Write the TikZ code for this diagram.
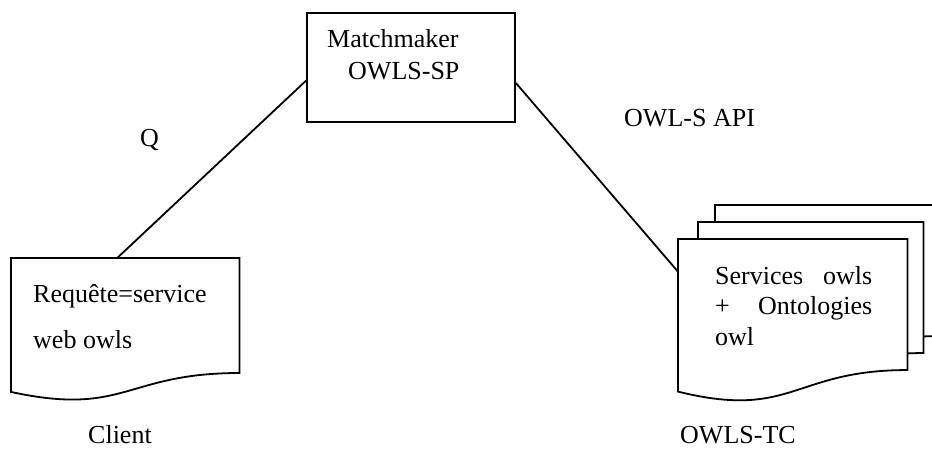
\documentclass[tikz,border=0pt]{standalone}
\usepackage{fontspec}
\setmainfont{Liberation Serif}
\usetikzlibrary{calc}
\tikzset{
  txt/.style={anchor=base west, inner sep=0pt, font=\fontsize{26}{30}\selectfont},
  box/.style={draw, line width=1.8pt, fill=white, inner sep=0pt, minimum width=208pt, minimum height=109pt},
  docarea/.style 2 args={inner sep=0pt, minimum width=#1pt, minimum height=#2pt, anchor=north west},
  docline/.style={draw, line width=1.8pt, fill=white, line join=miter},
  link/.style={draw, line width=1.8pt},
}
% document shape: flat top, wavy bottom
\newcommand{\docshape}[1]{%
  \path[docline] (#1.north west) -- (#1.north east)
    -- ($(#1.north east)!0.802!(#1.south east)$)
    .. controls ($($(#1.north west)!0.5!(#1.north east)$)!0.802!($(#1.south west)!0.5!(#1.south east)$)$)
    and ($($(#1.north west)!0.5!(#1.north east)$)!1.107!($(#1.south west)!0.5!(#1.south east)$)$)
    .. ($(#1.north west)!0.934!(#1.south west)$) -- cycle;}
\begin{document}
\begin{tikzpicture}[x=1pt, y=-1pt]
  \useasboundingbox (0,0) rectangle (932,448);
  \clip (0,0) rectangle (932,448);

  % matchmaker box
  \node[box, anchor=north west] (mm) at (306,12) {};
  \node[txt] (mmA) at (327,47) {Matchmaker};
  \node[txt] (mmB) at (348,79) {OWLS-SP};

  % client request document
  \node[docarea={228}{143}] (client) at (11,258) {};
  \docshape{client}
  \node[txt] (req1) at (33,302) {Requête=service};
  \node[txt] (req2) at (33,348) {web owls};
  \node[txt] (clientlbl) at (88,443) {Client};

  % stack of test-collection documents
  \node[docarea={225}{163}] (tc3) at (715,205) {};
  \docshape{tc3}
  \node[docarea={225}{163}] (tc2) at (698,222) {};
  \docshape{tc2}
  \node[docarea={229}{163}] (tc1) at (678,239) {};
  \docshape{tc1}
  \node[txt] (s1) at (715,284) {\makebox[157pt][s]{Services\hfill owls}};
  \node[txt] (s2) at (715,314) {\makebox[157pt][s]{+\hfill Ontologies}};
  \node[txt] (s3) at (715,345) {owl};
  \node[txt] (tclbl) at (680,443) {OWLS-TC};

  % connectors and their labels
  \draw[link] ($(mm.north west)!0.62!(mm.south west)$) -- ($(client.north west)!0.465!(client.north east)$);
  \draw[link] ($(mm.north east)!0.64!(mm.south east)$) -- ($(tc1.north west)!0.2!(tc1.south west)$);
  \node[txt] (q) at (140,146) {Q};
  \node[txt] (api) at (624,126) {OWL-S API};
\end{tikzpicture}
\end{document}
